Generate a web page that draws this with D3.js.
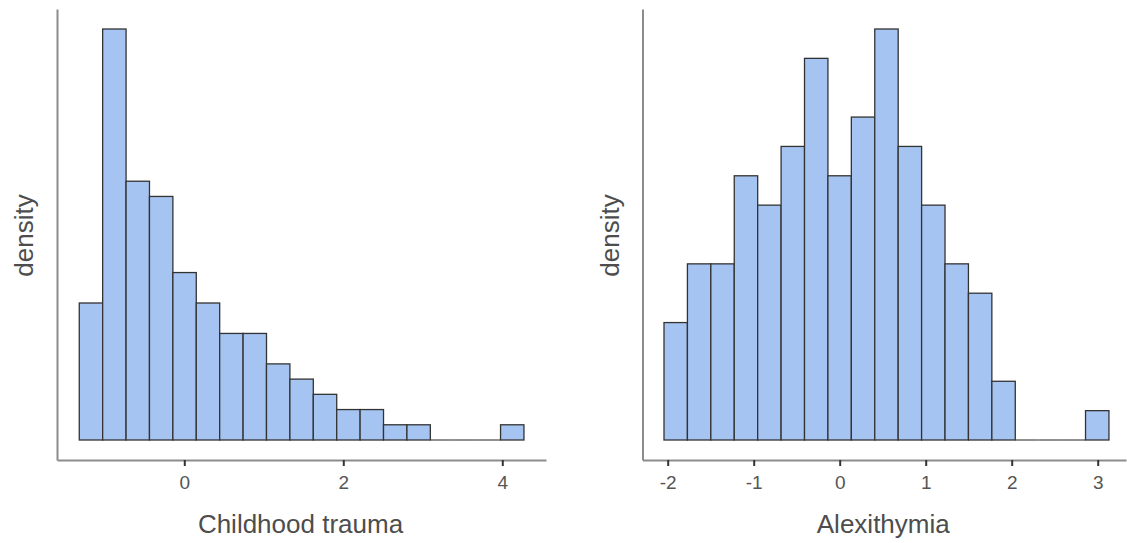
<!DOCTYPE html>
<html>
<head>
<meta charset="utf-8">
<script src="https://cdn.jsdelivr.net/npm/d3@7"></script>
<style>
  html, body { margin: 0; padding: 0; background: #fff; }
  svg { display: block; }
  text { font-family: "Liberation Sans", Arial, sans-serif; }
</style>
</head>
<body>
<svg id="chart" width="1127" height="543"></svg>
<script>
// Childhood trauma histogram: 19 equal-width bins
const traumaStart = -1.321;
const traumaBinWidth = 0.2944;
const traumaCounts = [9, 27, 17, 16, 11, 9, 7, 7, 5, 4, 3, 2, 2, 1, 1, 0, 0, 0, 1];
const traumaTicks = [0, 2, 4];

// Alexithymia histogram: 19 equal-width bins
const alexStart = -2.043;
const alexBinWidth = 0.2723;
const alexCounts = [4, 6, 6, 9, 8, 10, 13, 9, 11, 14, 10, 8, 6, 5, 2, 0, 0, 0, 1];
const alexTicks = [-2, -1, 0, 1, 2, 3];

const panels = [
  { title: "Childhood trauma", start: traumaStart, width: traumaBinWidth, counts: traumaCounts,
    ticks: traumaTicks, xDomain: [-1.601, 4.550], left: 57, right: 546 },
  { title: "Alexithymia", start: alexStart, width: alexBinWidth, counts: alexCounts,
    ticks: alexTicks, xDomain: [-2.293, 3.329], left: 642.5, right: 1126 }
];

const svg = d3.select("#chart");
const axisY = 460, axisTop = 9, barBase = 440, barTop = 29;

panels.forEach(p => {
  const x = d3.scaleLinear().domain(p.xDomain).range([p.left, p.right]);
  const maxC = d3.max(p.counts);
  const y = d3.scaleLinear().domain([0, maxC]).range([barBase, barTop]);
  const bins = p.counts.map((c, i) => ({ x0: p.start + i * p.width, x1: p.start + (i + 1) * p.width, c }));

  const g = svg.append("g");

  // empty bins still show their outline as a flat line on the baseline
  g.selectAll("line.empty").data(bins.filter(d => d.c === 0)).join("line")
    .attr("class", "empty")
    .attr("x1", d => x(d.x0))
    .attr("x2", d => x(d.x1))
    .attr("y1", y(0))
    .attr("y2", y(0))
    .attr("stroke", "#555")
    .attr("stroke-width", 1.3);

  g.selectAll("rect.bar").data(bins.filter(d => d.c > 0)).join("rect")
    .attr("class", "bar")
    .attr("x", d => x(d.x0))
    .attr("width", d => x(d.x1) - x(d.x0))
    .attr("y", d => y(d.c))
    .attr("height", d => y(0) - y(d.c))
    .attr("fill", "#a6c4f1")
    .attr("stroke", "#333")
    .attr("stroke-width", 1.3);

  // x axis
  const xAxis = d3.axisBottom(x).tickValues(p.ticks).tickSizeOuter(0).tickSizeInner(6).tickPadding(10)
    .tickFormat(d3.format("d"));
  const gx = g.append("g").attr("transform", `translate(0,${axisY})`).call(xAxis);
  gx.select(".domain").attr("stroke", "#8c8c8c").attr("stroke-width", 2);
  gx.selectAll(".tick line").attr("stroke", "#333").attr("stroke-width", 2);
  gx.selectAll(".tick text").attr("fill", "#555").attr("font-size", 19)
    .attr("font-family", "'Liberation Sans', Arial, sans-serif").text(d => d < 0 ? "-" + Math.abs(d) : d);

  // y axis (no ticks)
  const yAxisScale = d3.scaleLinear().domain([y.invert(axisY), y.invert(axisTop)]).range([axisY, axisTop]);
  const gy = g.append("g").attr("transform", `translate(${p.left},0)`)
    .call(d3.axisLeft(yAxisScale).tickValues([]).tickSizeOuter(0));
  gy.select(".domain").attr("stroke", "#8c8c8c").attr("stroke-width", 2);

  // titles
  g.append("text")
    .attr("x", (p.left + p.right) / 2 - 1)
    .attr("y", 533)
    .attr("text-anchor", "middle")
    .attr("font-size", 26)
    .attr("fill", "#4d4d4d")
    .text(p.title);

  g.append("text")
    .attr("transform", `translate(${p.left - 24},${(axisTop + axisY) / 2 + 1}) rotate(-90)`)
    .attr("text-anchor", "middle")
    .attr("font-size", 26)
    .attr("fill", "#4d4d4d")
    .text("density");
});
</script>
</body>
</html>
